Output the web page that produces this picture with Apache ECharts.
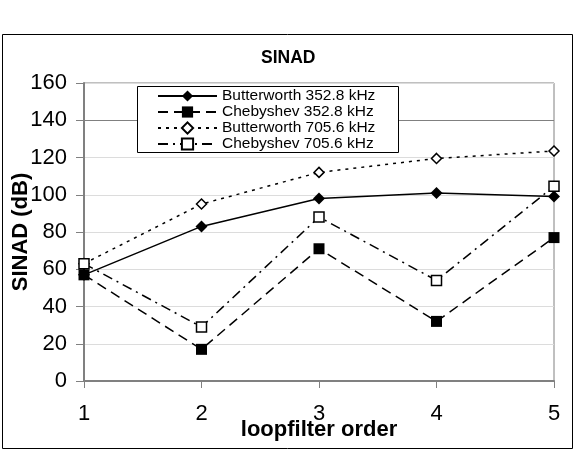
<!DOCTYPE html>
<html><head><meta charset="utf-8">
<script src="https://cdn.jsdelivr.net/npm/echarts@6/dist/echarts.min.js"></script>
<style>html,body{margin:0;padding:0;background:#fff}#c{width:579px;height:450px}</style>
</head><body><div id="c"></div>
<script>
var categories = ['1','2','3','4','5'];
var butter352 = [57, 83, 98, 101, 99];
var cheby352 = [57, 17, 71, 32, 77];
var butter705 = [63, 95, 112, 119.5, 123.5];
var cheby705 = [63, 29, 88, 54, 104.5];
var seriesNames = ['Butterworth 352.8 kHz','Chebyshev 352.8 kHz','Butterworth 705.6 kHz','Chebyshev 705.6 kHz'];

var chart = echarts.init(document.getElementById('c'));
var F = 'Liberation Sans, Arial, sans-serif';
function mk(name, data, sym, size, filled, dash){
  return {name:name, type:'line', data:data, symbol:sym, symbolSize:size,
    lineStyle:{color:'#000', width:1.5, type:dash},
    itemStyle:{color: filled ? '#000' : '#fff', borderColor:'#000', borderWidth: filled?0:1.5},
    emphasis:{disabled:true}, z:5};
}
var s = [
  mk(seriesNames[0], butter352, 'diamond', 12, true, 'solid'),
  mk(seriesNames[1], cheby352, 'rect', 11, true, [10,6]),
  mk(seriesNames[2], butter705, 'diamond', 10, false, [3,5]),
  mk(seriesNames[3], cheby705, 'rect', 10, false, [10,5,2,5])
];
s[0].markLine = {silent:true, symbol:'none', label:{show:false}, lineStyle:{color:'#808080', type:'solid', width:1}, data:[{yAxis:140}], z:1};
chart.setOption({
  animation:false,
  backgroundColor:'#fff',
  title:{text:'SINAD', left:261, top:49, padding:0, textStyle:{fontFamily:F, fontSize:17.5, fontWeight:'bold', color:'#000'}},
  graphic:[
    {type:'rect', shape:{x:2.5, y:34.5, width:570, height:414}, style:{fill:null, stroke:'#000', lineWidth:1}},
    {type:'rect', z:3, silent:true, shape:{x:137.5, y:86.5, width:261, height:66}, style:{fill:'#fff', stroke:'#000', lineWidth:1}}
  ],
  legend:{orient:'vertical', left:137, top:86, padding:[2,20,2,20], itemGap:0, itemWidth:59, itemHeight:14, z:4,
    textStyle:{fontFamily:F, fontSize:15.5, lineHeight:16, color:'#000'}, data:seriesNames},
  grid:{left:84, right:25, top:83, bottom:69, show:true, borderColor:'#808080', borderWidth:1, containLabel:false, outerBoundsMode:'none'},
  xAxis:{type:'category', data:categories, boundaryGap:false,
    name:'loopfilter order', nameLocation:'middle', nameGap:38, nameMoveOverlap:false,
    nameTextStyle:{fontFamily:F, fontSize:22, fontWeight:'bold', color:'#000'},
    axisLine:{lineStyle:{color:'#808080', width:2}}, axisTick:{show:true, length:7, inside:false, lineStyle:{color:'#808080'}},
    axisLabel:{fontFamily:F, fontSize:22, color:'#000', margin:22}, splitLine:{show:false}},
  yAxis:{type:'value', min:0, max:160, interval:20,
    name:'SINAD (dB)', nameLocation:'middle', nameGap:52, nameRotate:90, nameMoveOverlap:false,
    nameTextStyle:{fontFamily:F, fontSize:22, fontWeight:'bold', color:'#000'},
    axisLine:{show:true, lineStyle:{color:'#808080', width:2}}, axisTick:{show:true, length:8, lineStyle:{color:'#808080'}},
    axisLabel:{fontFamily:F, fontSize:22, color:'#000', margin:17},
    splitLine:{lineStyle:{color:'#dcdcdc', width:1}}},
  series:s
});
</script></body></html>
